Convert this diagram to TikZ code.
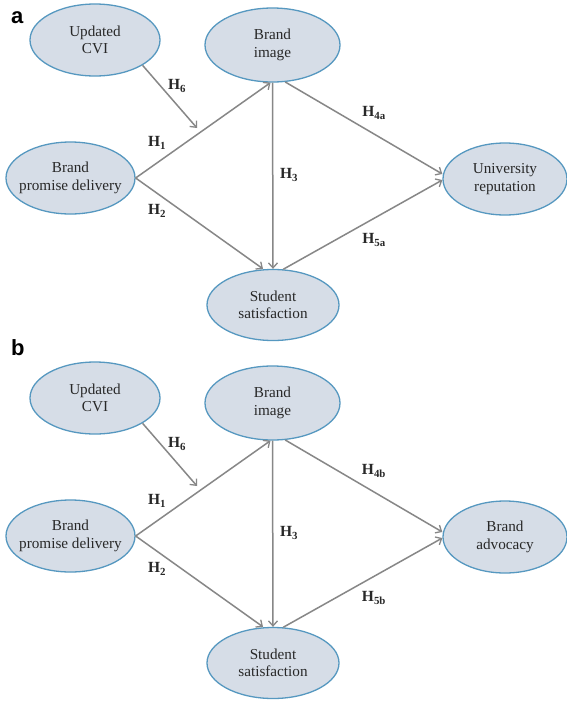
\documentclass[tikz,border=0pt]{standalone}
\usepackage{fontspec}
\setmainfont{Liberation Serif}
\newfontfamily\panelfont{Liberation Sans}
\usetikzlibrary{arrows.meta,shapes.geometric}

\definecolor{ovalfill}{RGB}{214,221,231}
\definecolor{ovalline}{RGB}{86,152,192}
\definecolor{arrowgray}{RGB}{135,135,135}
\definecolor{inkgray}{RGB}{40,40,40}

\tikzset{
  construct/.style={ellipse, draw=ovalline, fill=ovalfill, line width=1.3pt,
    inner sep=-12pt, align=center, text=inkgray,
    font=\fontsize{15.2}{17.5}\selectfont},
  link/.style={draw=arrowgray, line width=1.5pt,
    -{Straight Barb[length=5pt,width=9pt,line width=1.3pt]}},
  hyp/.style={font=\fontsize{15.5}{17}\selectfont\bfseries, text=inkgray, inner sep=0pt},
  panel/.style={font=\panelfont\fontsize{22}{24}\selectfont\bfseries, anchor=base west, inner sep=0pt}
}

% one research model; #1 = name suffix, #2 = outcome text, #3 = subscript letter
\newcommand\modelpanel[3]{%
  \node[construct, minimum width=130pt, minimum height=72pt] (cvi#1) at (95,40) {Updated\\CVI};
  \node[construct, minimum width=135pt, minimum height=74pt] (img#1) at (272.5,45) {Brand\\image};
  \node[construct, minimum width=129pt, minimum height=72pt] (bpd#1) at (70.5,178) {Brand\\promise delivery};
  \node[construct, minimum width=132pt, minimum height=71pt] (sat#1) at (273,305) {Student\\satisfaction};
  \node[construct, minimum width=124pt, minimum height=72pt] (out#1) at (505,179) {#2};
  \coordinate (mod#1) at (197,128);
  \draw[link] (bpd#1.east) -- ([xshift=-2pt]img#1.south);
  \draw[link] (bpd#1.east) -- ([xshift=-10pt]sat#1.north);
  \draw[link] (img#1.south) -- (sat#1.north);
  \draw[link] (img#1.-71) -- ([yshift=5pt]out#1.west);
  \draw[link] (sat#1.74) -- ([yshift=-1pt]out#1.west);
  \draw[link] (cvi#1.-28) -- (mod#1);
  \node[hyp] (h6#1) at (177,86) {H\textsubscript{6}};
  \node[hyp] (h1#1) at (157,143) {H\textsubscript{1}};
  \node[hyp] (h2#1) at (157,211) {H\textsubscript{2}};
  \node[hyp] (h3#1) at (289,175) {H\textsubscript{3}};
  \node[hyp] (h4#1) at (374,113) {H\textsubscript{4#3}};
  \node[hyp] (h5#1) at (374,240) {H\textsubscript{5#3}};
}

\begin{document}
\begin{tikzpicture}[x=1pt,y=-1pt]
  \useasboundingbox[fill=white] (0,0) rectangle (566,702);
  \node[panel] (pa) at (11,23) {a};
  \modelpanel{A}{University\\reputation}{a}
  \node[panel] (pb) at (11,355) {b};
  \begin{scope}[yshift=-358pt]
    \modelpanel{B}{Brand\\advocacy}{b}
  \end{scope}
\end{tikzpicture}
\end{document}
